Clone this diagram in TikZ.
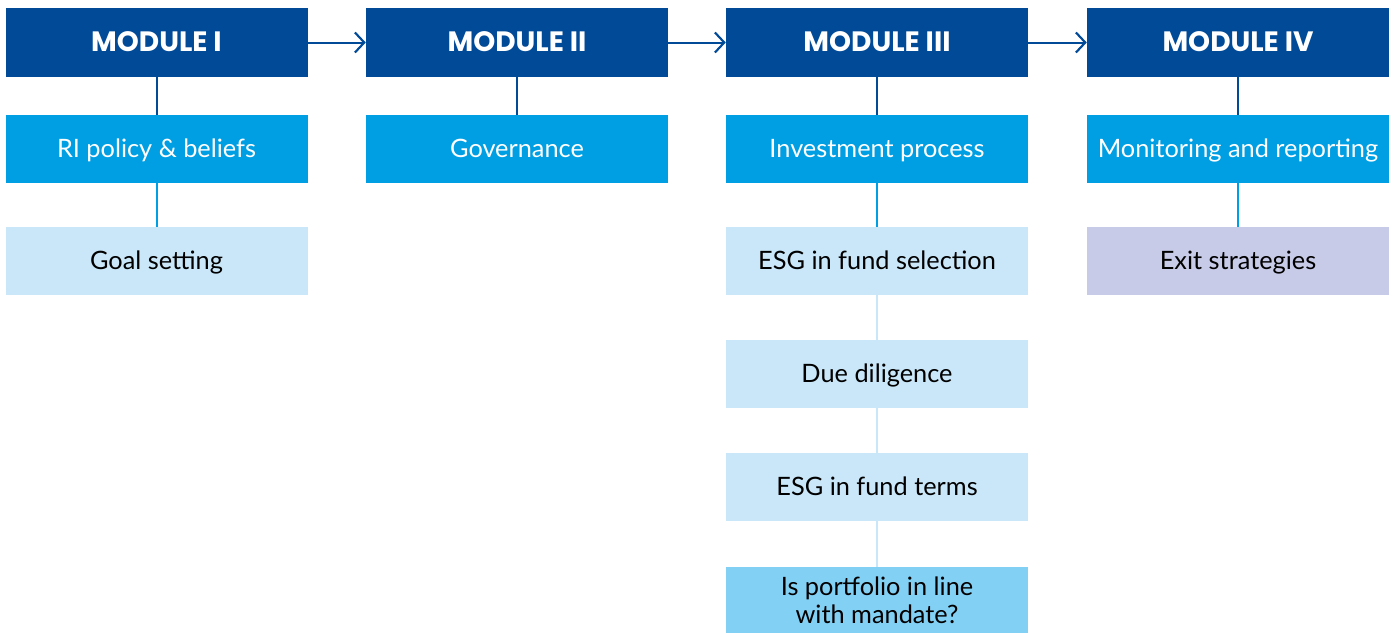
\documentclass[tikz,border=0pt]{standalone}
\usepackage{fontspec}
\setmainfont{Lato}
\newfontfamily\headfont{Poppins}
\usetikzlibrary{arrows.meta}
\definecolor{hdark}{HTML}{004A98}
\definecolor{hmid}{HTML}{009FE3}
\definecolor{hlight}{HTML}{C9E7F8}
\definecolor{hlav}{HTML}{C8CBE8}
\definecolor{hcyan}{HTML}{83D0F5}
\tikzset{
  box/.style={minimum width=302*0.75pt, minimum height=68*0.75pt, inner sep=0pt, align=center, font=\fontsize{19}{21}\selectfont, text height=13pt, text depth=-1pt},
  headbox/.style={box, fill=hdark, text=white, minimum height=69*0.75pt, font=\headfont\bfseries\fontsize{21}{23}\selectfont, text height=14pt, text depth=-3pt},
  midbox/.style={box, fill=hmid, text=white},
  lightbox/.style={box, fill=hlight, text=black},
  lavbox/.style={box, fill=hlav, text=black},
  cyanbox/.style={box, fill=hcyan, text=black, text height=, text depth=},
  darkline/.style={draw=hdark, line width=2*0.75pt},
  midline/.style={draw=hmid, line width=2*0.75pt},
  lightline/.style={draw=hlight, line width=2*0.75pt},
  flow/.style={draw=hdark, line width=2*0.75pt, -{Straight Barb[length=7pt, width=15pt, line width=1.6pt]}},
}
\begin{document}
\begin{tikzpicture}[x=0.75pt, y=-0.75pt]
\useasboundingbox (0,0) rectangle (1395,632);
\node[headbox] (m1) at (156.5,42.5) {MODULE I};
\node[headbox] (m2) at (517,42.5) {MODULE II};
\node[headbox] (m3) at (877,42.5) {MODULE III};
\node[headbox] (m4) at (1238,42.5) {MODULE IV};

\node[midbox] (p1) at (156.5,149) {RI policy \& beliefs};
\node[midbox] (p2) at (517,149) {Governance};
\node[midbox] (p3) at (877,149) {Investment process};
\node[midbox] (p4) at (1238,149) {Monitoring and reporting};

\node[lightbox] (g1) at (156.5,261) {Goal setting};
\node[lightbox] (e1) at (877,261) {ESG in fund selection};
\node[lavbox] (x4) at (1238,261) {Exit strategies};
\node[lightbox] (d3) at (877,374) {Due diligence};
\node[lightbox] (t3) at (877,487) {ESG in fund terms};
\node[cyanbox, minimum height=66*0.75pt, font=\fontsize{19}{21}\selectfont] (q3) at (877,600) {Is portfolio in line\\with mandate?};

\draw[flow] (m1.east) -- (m2.west);
\draw[flow] (m2.east) -- (m3.west);
\draw[flow] (m3.east) -- (m4.west);

\draw[darkline] (m1.south) -- (p1.north);
\draw[darkline] (m2.south) -- (p2.north);
\draw[darkline] (m3.south) -- (p3.north);
\draw[darkline] (m4.south) -- (p4.north);

\draw[midline] (p1.south) -- (g1.north);
\draw[midline] (p3.south) -- (e1.north);
\draw[midline] (p4.south) -- (x4.north);

\draw[lightline] (e1.south) -- (d3.north);
\draw[lightline] (d3.south) -- (t3.north);
\draw[lightline] (t3.south) -- (q3.north);
\end{tikzpicture}
\end{document}
